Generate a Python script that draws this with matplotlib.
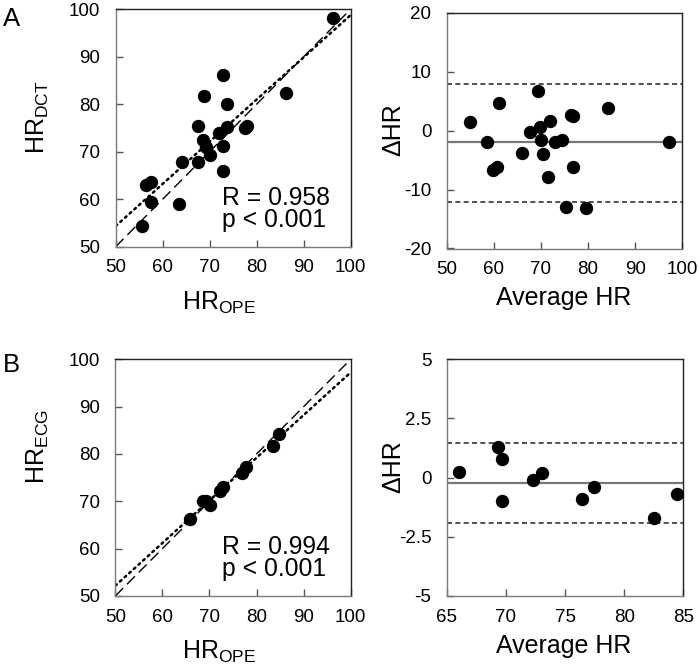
import numpy as np
import matplotlib
matplotlib.use('Agg')
import matplotlib.pyplot as plt

plt.rcParams['font.family'] = ['Liberation Sans', 'DejaVu Sans']
plt.rcParams['mathtext.fontset'] = 'custom'
plt.rcParams['mathtext.rm'] = 'Liberation Sans'
plt.rcParams['mathtext.it'] = 'Liberation Sans:italic'
plt.rcParams['mathtext.bf'] = 'Liberation Sans:bold'

# ---------------- data ----------------
# Panel A: OPE vs DCT heart rate
hr_ope_a = [55.7, 63.5, 57.5, 56.5, 57.5, 64.1, 67.6, 72.8, 70.0, 69.3, 68.5,
            72.8, 67.6, 71.9, 73.7, 77.6, 77.9, 73.8, 68.8, 72.9, 86.2, 96.3]
hr_dct_a = [54.3, 58.9, 59.5, 63.1, 63.7, 67.9, 67.8, 66.0, 69.4, 70.9, 72.4,
            71.2, 75.4, 73.9, 75.3, 75.0, 75.5, 80.0, 81.8, 86.1, 82.3, 98.2]
stats_a = ["R = 0.958", "p < 0.001"]
loa_a = [7.85, -1.95, -12.1]      # upper limit, mean difference, lower limit

# Panel B: OPE vs ECG heart rate
hr_ope_b = [65.97, 68.67, 69.29, 70.19, 72.33, 72.91, 76.90, 77.68, 83.41, 84.83]
hr_ecg_b = [66.19, 69.98, 70.09, 69.19, 72.23, 73.12, 76.00, 77.30, 81.72, 84.14]
stats_b = ["R = 0.994", "p < 0.001"]
loa_b = [1.46, -0.22, -1.92]

scatter_ticks = [50, 60, 70, 80, 90, 100]
ba_a_xticks = [50, 60, 70, 80, 90, 100]
ba_a_yticks = [-20, -10, 0, 10, 20]
ba_b_xticks = [65, 70, 75, 80, 85]
ba_b_yticks = [-5, -2.5, 0, 2.5, 5]
ba_b_ylabels = ["-5", "-2.5", "0", "2.5", "5"]

# ---------------- figure ----------------
W, H = 700, 668
fig = plt.figure(figsize=(W / 100, H / 100), dpi=100)


def ax_px(l, t, r, b):
    return fig.add_axes([l / W, 1 - b / H, (r - l) / W, (b - t) / H])


def style(ax):
    for s in ['left', 'bottom']:
        ax.spines[s].set_color('#7a7a7a')
        ax.spines[s].set_linewidth(1.0)
    for s in ['top', 'right']:
        ax.spines[s].set_color('#222222')
        ax.spines[s].set_linewidth(1.0)
    ax.tick_params(direction='in', length=5, width=1, colors='#555555',
                   labelcolor='black', labelsize=13.5)
    ax.tick_params(axis='x', pad=9)
    ax.tick_params(axis='y', pad=11)
    ax.tick_params(top=False, right=False)


MS = 8.6


def scatter_panel(ax, x, y, stats):
    x = np.asarray(x)
    y = np.asarray(y)
    ax.plot(x, y, 'o', color='black', ms=MS, zorder=3)
    lims = np.array([50, 100])
    ax.plot(lims, lims, color='black', lw=1.0, dashes=(8, 4), zorder=2)
    k, c = np.polyfit(x, y, 1)
    ax.plot(lims, k * lims + c, color='black', lw=1.8, linestyle=(0, (0.8, 1.7)),
            dash_capstyle='round', zorder=2)
    ax.set_xlim(50, 100)
    ax.set_ylim(50, 100)
    ax.set_xticks(scatter_ticks)
    ax.set_yticks(scatter_ticks)
    ax.text(72.6, 58.8, stats[0], fontsize=17.8, va='baseline', ha='left')
    ax.text(72.6, 54.2, stats[1], fontsize=17.8, va='baseline', ha='left')
    style(ax)


def ba_panel(ax, avg, diff, loa):
    ax.plot(avg, diff, 'o', color='black', ms=MS, zorder=3)
    ax.axhline(loa[1], color='#777777', lw=1.6, zorder=2)
    ax.axhline(loa[0], color='#333333', lw=1.2, dashes=(3, 2), zorder=2)
    ax.axhline(loa[2], color='#333333', lw=1.2, dashes=(3, 2), zorder=2)
    style(ax)


# Panel A left
axA1 = ax_px(115.7, 9.3, 350.5, 246.7)
scatter_panel(axA1, hr_ope_a, hr_dct_a, stats_a)

# Panel A right (Bland-Altman)
axA2 = ax_px(446.7, 12.7, 682.3, 248.5)
avg_a = (np.asarray(hr_ope_a) + np.asarray(hr_dct_a)) / 2
diff_a = np.asarray(hr_ope_a) - np.asarray(hr_dct_a)
ba_panel(axA2, avg_a, diff_a, loa_a)
axA2.set_xlim(50, 100)
axA2.set_ylim(-20, 20)
axA2.set_xticks(ba_a_xticks)
axA2.set_yticks(ba_a_yticks)
axA2.set_yticklabels([str(v) for v in ba_a_yticks])

# Panel B left
axB1 = ax_px(115.3, 359.3, 350.7, 596)
scatter_panel(axB1, hr_ope_b, hr_ecg_b, stats_b)

# Panel B right
axB2 = ax_px(446.7, 359.3, 683.3, 596)
avg_b = (np.asarray(hr_ope_b) + np.asarray(hr_ecg_b)) / 2
diff_b = np.asarray(hr_ecg_b) - np.asarray(hr_ope_b)
ba_panel(axB2, avg_b, diff_b, loa_b)
axB2.set_xlim(65, 85)
axB2.set_ylim(-5, 5)
axB2.set_xticks(ba_b_xticks)
axB2.set_yticks(ba_b_yticks)
axB2.set_yticklabels(ba_b_ylabels)


def ftext(x, y, s, **kw):
    fig.text(x / W, 1 - y / H, s, **kw)


LBL = 18
# panel letters
ftext(3, 26, "A", fontsize=18.5, va='baseline', ha='left')
ftext(3, 372, "B", fontsize=18.5, va='baseline', ha='left')

# y labels
ftext(38, 117, r"HR$_{\mathregular{DCT}}$", fontsize=LBL, rotation=90, ha='center', va='center')
ftext(38, 447, r"HR$_{\mathregular{ECG}}$", fontsize=LBL, rotation=90, ha='center', va='center')
ftext(393, 130, "\u0394HR", fontsize=LBL, rotation=90, ha='center', va='center')
ftext(393, 467, "\u0394HR", fontsize=LBL, rotation=90, ha='center', va='center')

# x labels
ftext(182, 310, r"HR$_{\mathregular{OPE}}$", fontsize=LBL, ha='left', va='baseline')
ftext(182, 659, r"HR$_{\mathregular{OPE}}$", fontsize=LBL, ha='left', va='baseline')
ftext(564, 305, "Average HR", fontsize=LBL, ha='center', va='baseline')
ftext(564, 653, "Average HR", fontsize=LBL, ha='center', va='baseline')

fig.savefig('out.png', dpi=100)
